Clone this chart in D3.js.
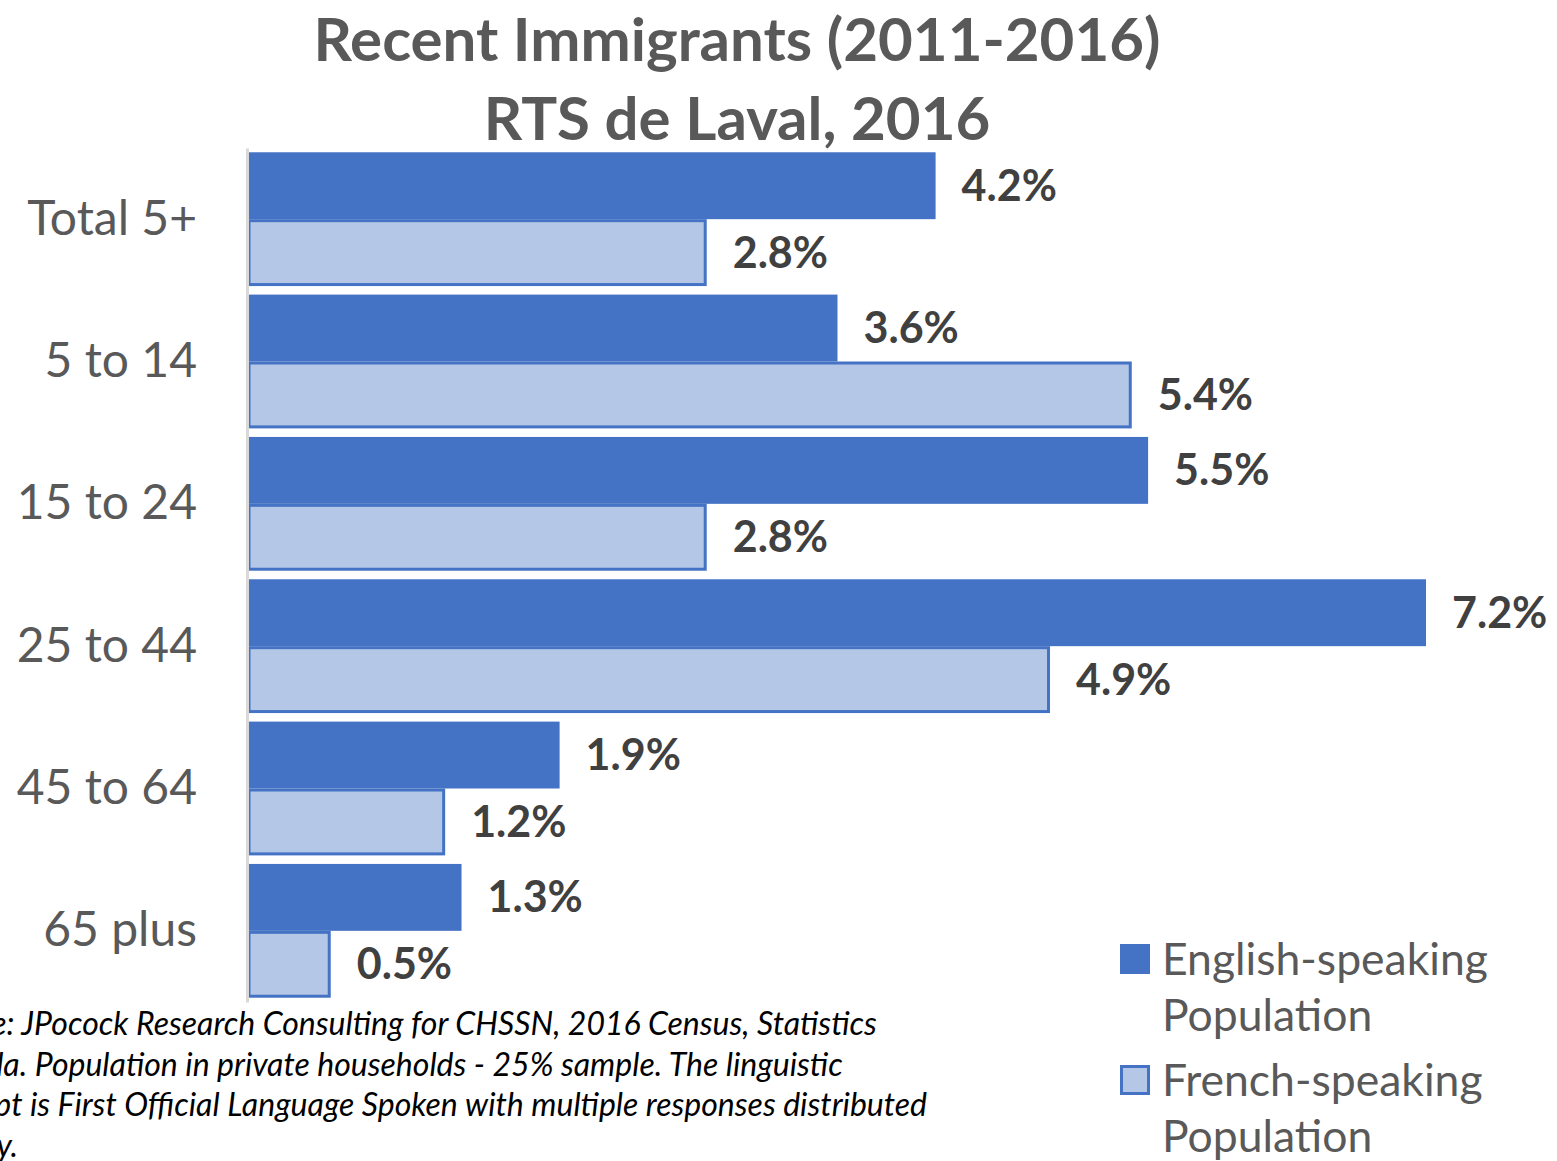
<!DOCTYPE html>
<html>
<head>
  <meta charset="utf-8">
  <title>Recent Immigrants (2011-2016) RTS de Laval, 2016</title>
  <script src="https://d3js.org/d3.v7.min.js"></script>
  <style>
    body { margin: 0; background: #fff; overflow: hidden; }
    text { font-family: Lato, "Open Sans", sans-serif; }
  </style>
</head>
<body>
<script>
  "use strict";

  // data
  var categories = ["Total 5+", "5 to 14", "15 to 24", "25 to 44", "45 to 64", "65 plus"];
  var seriesNames = ["English-speaking Population", "French-speaking Population"];
  var englishValues = [4.2, 3.6, 5.5, 7.2, 1.9, 1.3];
  var frenchValues = [2.8, 5.4, 2.8, 4.9, 1.2, 0.5];
  var titleLines = ["Recent Immigrants (2011-2016)", "RTS de Laval, 2016"];
  var noteLines = [
    "Source: JPocock Research Consulting for CHSSN, 2016 Census, Statistics",
    "Canada. Population in private households - 25% sample. The linguistic",
    "concept is First Official Language Spoken with multiple responses distributed",
    "equally."
  ];

  var width = 1557, height = 1161;
  var dark = "#4472C4", light = "#B4C7E7";

  var svg = d3.select("body").append("svg")
      .attr("width", width)
      .attr("height", height);

  // title
  svg.append("g").selectAll("text")
      .data(titleLines)
      .enter().append("text")
        .attr("x", 737)
        .attr("y", function (d, i) { return 61 + i * 79; })
        .attr("text-anchor", "middle")
        .style("font-size", "60px")
        .style("font-weight", "bold")
        .style("fill", "#595959")
        .text(function (d) { return d; });

  var x = d3.scaleLinear().domain([0, 7.2]).range([249, 1426]);
  var y = d3.scaleBand().domain(categories).range([148, 1002])
      .paddingInner(0.06).paddingOuter(0.03);
  var sub = d3.scaleBand().domain([0, 1]).range([0, y.bandwidth()]);

  var rows = categories.map(function (c, i) {
    return { cat: c, vals: [englishValues[i], frenchValues[i]] };
  });

  var groups = svg.append("g").selectAll("g")
      .data(rows)
      .enter().append("g")
        .attr("transform", function (d) { return "translate(0," + y(d.cat) + ")"; });

  var bars = groups.selectAll("g")
      .data(function (d) { return d.vals.map(function (v, k) { return { v: v, k: k }; }); })
      .enter().append("g");

  bars.append("rect")
      .attr("x", x(0))
      .attr("y", function (d) { return sub(d.k) + (d.k ? 1.5 : 0); })
      .attr("width", function (d) { return x(d.v) - x(0) - (d.k ? 1.5 : 0); })
      .attr("height", function (d) { return sub.bandwidth() - (d.k ? 3 : 0); })
      .style("fill", function (d) { return d.k ? light : dark; })
      .style("stroke", function (d) { return d.k ? dark : "none"; })
      .style("stroke-width", 3);

  bars.append("text")
      .attr("x", function (d) { return x(d.v) + 26; })
      .attr("y", function (d) { return sub(d.k) + sub.bandwidth() / 2; })
      .attr("dy", "0.35em")
      .style("font-size", "43px")
      .style("font-weight", "bold")
      .style("fill", "#404040")
      .text(function (d) { return d.v.toFixed(1) + "%"; });

  // category axis
  var yAxis = svg.append("g")
      .attr("transform", "translate(247,0)")
      .call(d3.axisLeft(y).tickSize(0).tickPadding(50).tickSizeOuter(0));
  yAxis.select(".domain").style("stroke", "#d9d9d9").style("stroke-width", 3);
  yAxis.selectAll("text")
      .style("font-family", "Lato, sans-serif")
      .style("font-size", "48px")
      .style("fill", "#595959");

  // legend
  var legend = svg.append("g").selectAll("g")
      .data(seriesNames)
      .enter().append("g")
        .attr("transform", function (d, i) { return "translate(1120," + (944 + i * 121) + ")"; });
  legend.append("rect")
      .attr("x", 1.5).attr("y", 1.5)
      .attr("width", 27).attr("height", 27)
      .style("fill", function (d, i) { return i ? light : dark; })
      .style("stroke", dark)
      .style("stroke-width", 3);
  legend.selectAll("text")
      .data(function (d) { var p = d.split(" "); return [p[0], p[1]]; })
      .enter().append("text")
        .attr("x", 42)
        .attr("y", function (d, i) { return 31 + i * 56; })
        .style("font-size", "44.5px")
        .style("fill", "#595959")
        .text(function (d) { return d; });

  // source note, cut off at the left like the original
  svg.append("g").selectAll("text")
      .data(noteLines)
      .enter().append("text")
        .attr("x", -83)
        .attr("y", function (d, i) { return 1035 + i * 40.5; })
        .style("font-size", "32px")
        .style("font-style", "italic")
        .style("fill", "#000")
        .text(function (d) { return d; });
</script>
</body>
</html>
